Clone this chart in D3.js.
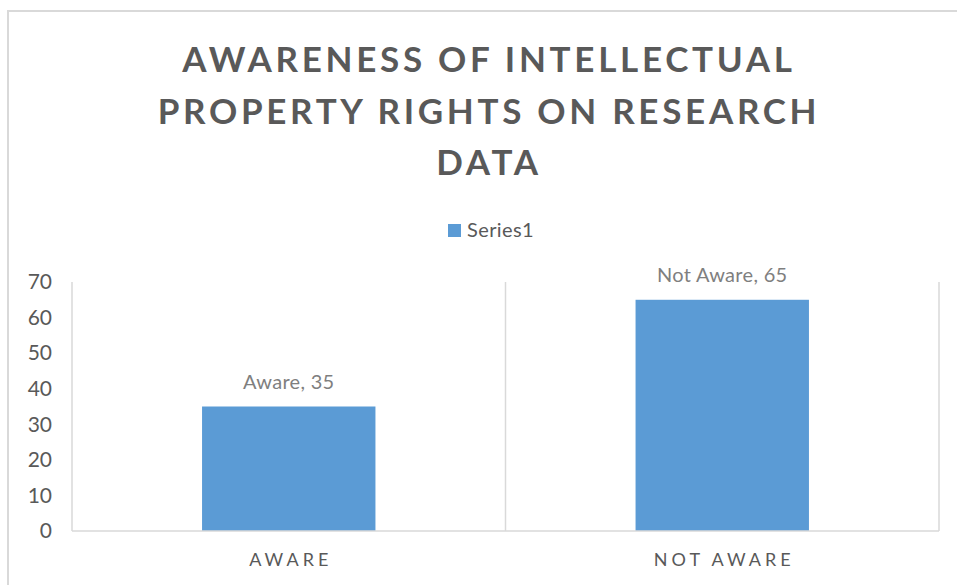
<!DOCTYPE html>
<html>
<head>
<meta charset="utf-8">
<script src="https://cdn.jsdelivr.net/npm/d3@7"></script>
<style>
  body { margin: 0; background: #fff; }
  svg { display: block; font-family: Lato, "Open Sans", sans-serif; }
</style>
</head>
<body>
<svg id="chart" width="957" height="585"></svg>
<script>
// chart data
var categories = ["AWARE", "NOT AWARE"];
var labels = ["Aware", "Not Aware"];
var values = [35, 65];
var yTicks = [0, 10, 20, 30, 40, 50, 60, 70];
var titleLines = ["AWARENESS OF INTELLECTUAL", "PROPERTY RIGHTS ON RESEARCH", "DATA"];
var seriesName = "Series1";

var svg = d3.select("#chart");
var blue = "#5b9bd5";
var grid = "#d9d9d9";
var font = "Lato, 'Open Sans', sans-serif";

//plot area
var plot = {left: 72, right: 939, top: 282, bottom: 531};

//outer chart border (only top and left visible in the frame)
svg.append("rect")
  .attr("x", 8)
  .attr("y", 11)
  .attr("width", 960)
  .attr("height", 600)
  .attr("fill", "none")
  .attr("stroke", grid)
  .attr("stroke-width", 2);

//title
svg.append("g")
  .selectAll("text")
  .data(titleLines)
  .enter()
  .append("text")
    .attr("x", 489)
    .attr("y", function(d, i) { return 72 + i * 51.5; })
    .attr("text-anchor", "middle")
    .attr("font-size", 35)
    .attr("font-weight", "bold")
    .attr("letter-spacing", 3.7)
    .attr("fill", "#595959")
    .text(function(d) { return d; });

//legend
var legend = svg.append("g").attr("transform", "translate(448,224)");
legend.append("rect")
  .attr("width", 13)
  .attr("height", 13)
  .attr("fill", blue);
legend.append("text")
  .attr("x", 19)
  .attr("y", 13)
  .attr("font-size", 20)
  .attr("letter-spacing", 0.4)
  .attr("fill", "#595959")
  .text(seriesName);

var x = d3.scaleBand()
  .domain(categories)
  .range([plot.left, plot.right])
  .paddingInner(0.6)
  .paddingOuter(0.3);

var y = d3.scaleLinear()
  .domain([0, 70])
  .range([plot.bottom, plot.top]);

//vertical gridlines at category boundaries
var step = x.step();
var bounds = d3.range(categories.length + 1).map(function(i) {
  return plot.left + i * step;
});
svg.append("g")
  .selectAll("line")
  .data(bounds)
  .enter()
  .append("line")
    .attr("x1", function(d) { return d; })
    .attr("x2", function(d) { return d; })
    .attr("y1", plot.top)
    .attr("y2", plot.bottom)
    .attr("stroke", grid)
    .attr("stroke-width", 1.5);

//y axis labels
var yAxis = svg.append("g")
  .attr("transform", "translate(" + plot.left + ",0)")
  .call(d3.axisLeft(y).tickValues(yTicks).tickSize(0).tickPadding(20));
yAxis.select(".domain").remove();
yAxis.selectAll("text")
  .attr("font-family", font)
  .attr("font-size", 21)
  .attr("fill", "#595959");

//bars
svg.append("g")
  .selectAll("rect")
  .data(values)
  .enter()
  .append("rect")
    .attr("x", function(d, i) { return x(categories[i]); })
    .attr("y", function(d) { return y(d); })
    .attr("width", x.bandwidth())
    .attr("height", function(d) { return y(0) - y(d); })
    .attr("fill", blue);

//baseline
svg.append("line")
  .attr("x1", plot.left)
  .attr("x2", plot.right)
  .attr("y1", plot.bottom)
  .attr("y2", plot.bottom)
  .attr("stroke", grid)
  .attr("stroke-width", 1.5);

//data labels
svg.append("g")
  .selectAll("text")
  .data(values)
  .enter()
  .append("text")
    .attr("x", function(d, i) { return x(categories[i]) + x.bandwidth() / 2; })
    .attr("y", function(d) { return y(d) - 18; })
    .attr("text-anchor", "middle")
    .attr("font-size", 20)
    .attr("letter-spacing", 0.3)
    .attr("fill", "#7f7f7f")
    .text(function(d, i) { return labels[i] + ", " + d; });

//category labels
var xAxis = svg.append("g")
  .attr("transform", "translate(0," + plot.bottom + ")")
  .call(d3.axisBottom(x).tickSize(0).tickPadding(22));
xAxis.select(".domain").remove();
xAxis.selectAll("text")
  .attr("font-family", font)
  .attr("font-size", 18)
  .attr("letter-spacing", 4)
  .attr("dx", 2)
  .attr("fill", "#595959");
</script>
</body>
</html>
